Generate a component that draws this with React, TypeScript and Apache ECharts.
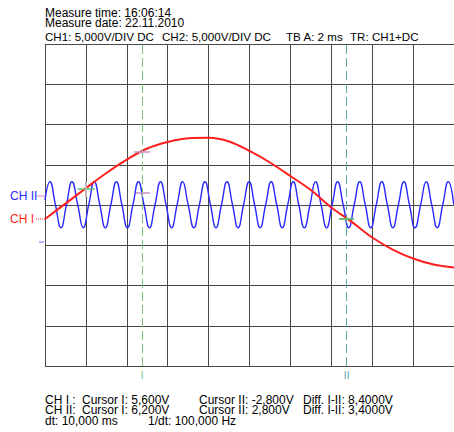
import React, { useEffect, useRef } from "react";
import * as echarts from "echarts";

const FONT = '"Liberation Sans", Arial, Helvetica, sans-serif';

// Scope settings: 2 ms/div over 10 divisions, 5 V/div over 8 divisions
const timeRange = [0, 20];
const voltRange = [-20, 20];
const timePerDiv = 2;
const voltsPerDiv = 5;

// CH I trace, [time ms, volts]
const ch1Trace: [number, number][] = [
  [0, -1.74], [1, 0.17], [2, 2.09], [3, 3.98], [4, 5.65], [5, 7.02],
  [6, 7.83], [7, 8.29], [8, 8.35], [9, 7.89], [10, 6.71], [11, 5.28],
  [12, 3.6], [13, 1.86], [14, -0.3], [15, -2.1], [16, -4.04],
  [17, -5.53], [18, -6.65], [19, -7.39], [20, -7.76],
];

// CH II trace, [time ms, volts]: peaks, crossings and troughs
const ch2Trace: [number, number][] = [
  [0, 0.6],
  [0.24, 2.89], [0.51, 0.03], [0.78, -2.82], [1.05, 0.03],
  [1.32, 2.89], [1.6, 0.03], [1.87, -2.82], [2.14, 0.03],
  [2.41, 2.89], [2.68, 0.03], [2.95, -2.82], [3.22, 0.03],
  [3.49, 2.89], [3.76, 0.03], [4.03, -2.82], [4.3, 0.03],
  [4.57, 2.89], [4.84, 0.03], [5.11, -2.82], [5.38, 0.03],
  [5.65, 2.89], [5.92, 0.03], [6.19, -2.82], [6.46, 0.03],
  [6.73, 2.89], [7.0, 0.03], [7.28, -2.82], [7.55, 0.03],
  [7.82, 2.89], [8.09, 0.03], [8.36, -2.82], [8.63, 0.03],
  [8.9, 2.89], [9.17, 0.03], [9.44, -2.82], [9.71, 0.03],
  [9.98, 2.89], [10.25, 0.03], [10.52, -2.82], [10.79, 0.03],
  [11.06, 2.89], [11.33, 0.03], [11.6, -2.82], [11.87, 0.03],
  [12.14, 2.89], [12.41, 0.03], [12.68, -2.82], [12.96, 0.03],
  [13.23, 2.89], [13.5, 0.03], [13.77, -2.82], [14.04, 0.03],
  [14.31, 2.89], [14.58, 0.03], [14.85, -2.82], [15.12, 0.03],
  [15.39, 2.89], [15.66, 0.03], [15.93, -2.82], [16.2, 0.03],
  [16.47, 2.89], [16.74, 0.03], [17.01, -2.82], [17.28, 0.03],
  [17.55, 2.89], [17.82, 0.03], [18.09, -2.82], [18.37, 0.03],
  [18.64, 2.89], [18.91, 0.03], [19.18, -2.82], [19.45, 0.03],
  [19.72, 2.89], [19.99, 0.03],
];

// Cursor positions in ms
const cursorTimes = [4.75, 14.75];
const cursorNames = ["I", "II"];
const cursorColors = ["#7cc47c", "#5aa8a8"];

const headerTop = ["Measure time: 16:06:14", "Measure date: 22.11.2010"];
const headerSettings: [string, number][] = [
  ["CH1: 5,000V/DIV DC", 45],
  ["CH2: 5,000V/DIV DC", 162],
  ["TB A: 2 ms", 286],
  ["TR: CH1+DC", 350],
];
// cursor readout, one column per block of rows
const readoutColumns: [string[], number][] = [
  [["CH I :", "CH II:"], 45],
  [["Cursor I: 5,600V", "Cursor I: 6,200V"], 82],
  [["Cursor II: -2,800V", "Cursor II: 2,800V"], 199],
  [["Diff. I-II: 8,4000V", "Diff. I-II: 3,4000V"], 303],
];
const timingRow: [string, number][] = [
  ["dt: 10,000 ms", 45],
  ["1/dt: 100,000 Hz", 148],
];

const RED = "#ff1e1e";
const BLUE = "#2a2aff";
const GRID = "#484848";

function text(t: string, x: number, y: number, fill = "#000", size = 12, lh = 12, va = "middle") {
  return {
    type: "text",
    silent: true,
    style: {
      text: t,
      x,
      y,
      fill,
      font: `${size}px ${FONT}`,
      lineHeight: lh,
      textAlign: "left",
      textVerticalAlign: va,
    },
  };
}

function seg(a: [number, number], b: [number, number], color: string, width = 1.5) {
  return [
    { coord: a, lineStyle: { color, width, type: "solid" } },
    { coord: b },
  ];
}

export default function App() {
  const ref = useRef<HTMLDivElement>(null);

  useEffect(() => {
    if (!ref.current) return;
    const chart = echarts.init(ref.current, null, { renderer: "svg" });

    const graphics: any[] = [];
    graphics.push(text(headerTop.join("\n"), 45, 8.2, "#000", 12, 9.6, "top"));
    headerSettings.forEach(([t, x]) => graphics.push(text(t, x, 36, "#000", 11.6, 11)));
    readoutColumns.forEach(([lines, x]) =>
      graphics.push(text(lines.join("\n"), x, 394.1, "#000", 12, 10.8, "top"))
    );
    timingRow.forEach(([t, x]) => graphics.push(text(t, x, 421.1, "#000", 12, 10.8)));

    // channel ground markers on the left edge
    graphics.push(text("CH II", 10, 196, BLUE));
    graphics.push(text("CH I", 10, 219, RED));
    graphics.push({
      type: "line",
      silent: true,
      shape: { x1: 37, y1: 196, x2: 45, y2: 196 },
      style: { stroke: "#d08ad0", lineWidth: 1 },
    });
    graphics.push({
      type: "line",
      silent: true,
      shape: { x1: 36, y1: 219, x2: 45, y2: 219 },
      style: { stroke: RED, lineWidth: 1, lineDash: [1, 1] },
    });
    graphics.push({
      type: "line",
      silent: true,
      shape: { x1: 39, y1: 242, x2: 44, y2: 242 },
      style: { stroke: "#6a6aff", lineWidth: 1 },
    });

    chart.setOption({
      animation: false,
      backgroundColor: "#ffffff",
      grid: { left: 45, top: 44, width: 413, height: 322, containLabel: false },
      xAxis: {
        type: "value",
        min: timeRange[0],
        max: timeRange[1],
        interval: timePerDiv,
        axisLine: { show: false },
        axisTick: { show: false },
        axisLabel: { show: false },
        splitLine: { show: true, lineStyle: { color: GRID, width: 1 } },
      },
      yAxis: {
        type: "value",
        min: voltRange[0],
        max: voltRange[1],
        interval: voltsPerDiv,
        axisLine: { show: false },
        axisTick: { show: false },
        axisLabel: { show: false },
        splitLine: { show: true, lineStyle: { color: GRID, width: 1 } },
      },
      graphic: graphics,
      series: [
        {
          name: "CH I",
          type: "line",
          data: ch1Trace,
          smooth: 0.35,
          showSymbol: false,
          silent: true,
          lineStyle: { color: RED, width: 2 },
          z: 3,
          markLine: {
            silent: true,
            symbol: "none",
            animation: false,
            data: cursorTimes.map((t, i) => ({
              xAxis: t,
              lineStyle: { color: cursorColors[i], width: 1, type: [9, 4] },
              label: {
                show: true,
                position: "start",
                formatter: cursorNames[i],
                color: cursorColors[i],
                fontFamily: FONT,
                fontSize: 10,
                distance: 4,
              },
            })),
          },
        },
        {
          name: "CH II",
          type: "line",
          data: ch2Trace,
          smooth: 0.5,
          showSymbol: false,
          silent: true,
          lineStyle: { color: BLUE, width: 1.4 },
          z: 2,
          markLine: {
            silent: true,
            symbol: "none",
            animation: false,
            label: { show: false },
            data: [
              seg([4.36, 6.62], [5.13, 6.62], "#c890c8"),
              seg([4.45, 1.53], [5.13, 1.53], "#c890c8"),
              seg([1.6, 1.99], [2.42, 1.99], "#5cb85c"),
              seg([2.0, 2.86], [2.0, 0.99], "#c8b4b4", 2),
              seg([14.38, -1.74], [15.11, -1.74], "#70b870", 2),
            ],
          },
        },
      ],
    });

    return () => chart.dispose();
  }, []);

  return (
    <div
      ref={ref}
      style={{ position: "fixed", left: 0, top: 0, width: 454, height: 432, background: "#fff" }}
    />
  );
}
